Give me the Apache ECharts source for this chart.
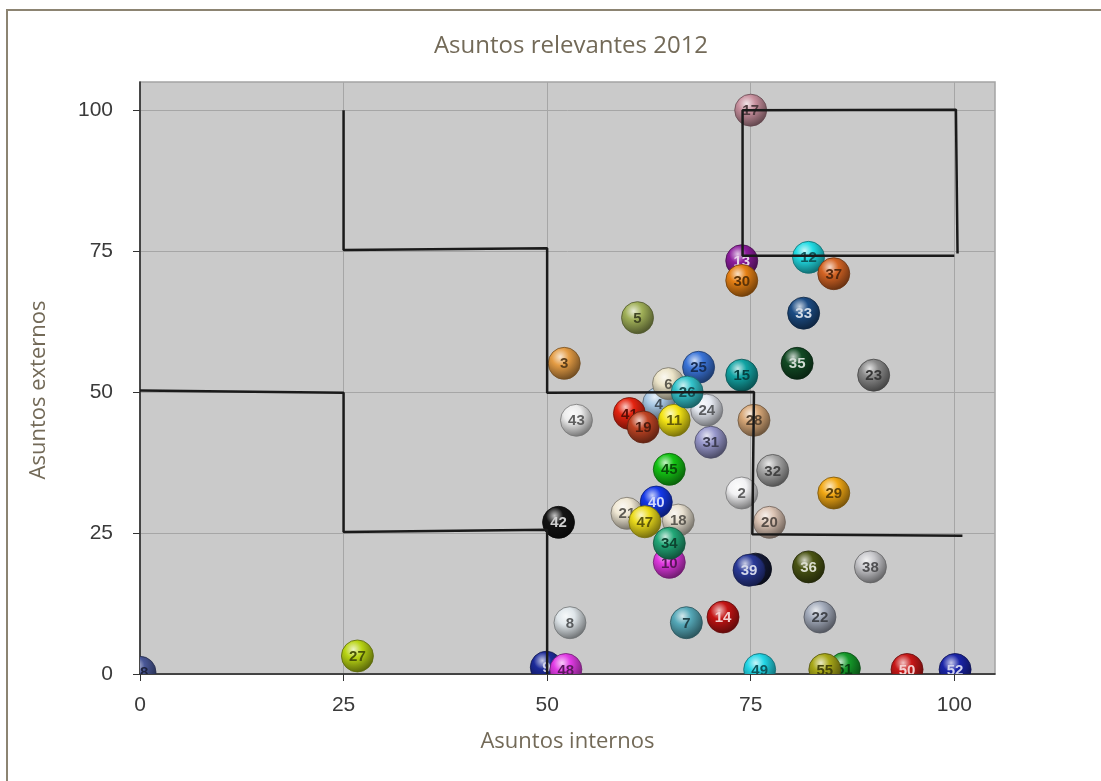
<!DOCTYPE html>
<html>
<head>
<meta charset="utf-8">
<script src="https://cdn.jsdelivr.net/npm/echarts@6/dist/echarts.min.js"></script>
<style>
    html, body { margin: 0; padding: 0; background: #fff; }
    #chart { width: 1101px; height: 781px; }
</style>
</head>
<body>
<div id="chart"></div>
<script>
// issue numbers, in drawing order (back to front)
const issueIds = ['58', '27', '9', '48', '49', '51', '55', '50', '52', '8', '7', '14', '22', '16', '39', '36', '38',
    '10', '21', '18', '40', '47', '34', '42', '20', '2', '29', '45', '32', '31', '43', '28', '4', '24', '41', '19',
    '11', '6', '25', '26', '15', '35', '23', '3', '5', '33', '13', '30', '12', '37', '17'];
const internalScores = [0, 26.7, 49.9, 52.3, 76.1, 86.5, 84.1, 94.2, 100.1, 52.8, 67.1, 71.6, 83.5, 75.6, 74.8, 82.1, 89.7,
    65, 59.8, 66.1, 63.4, 62, 65, 51.4, 77.3, 73.9, 85.2, 65, 77.7, 70.1, 53.6, 75.4, 63.7, 69.6, 60.1, 61.8,
    65.6, 64.9, 68.6, 67.2, 73.9, 80.7, 90.1, 52.1, 61.1, 81.5, 73.9, 73.9, 82.1, 85.2, 75];
const externalScores = [0.3, 3.2, 1.2, 0.8, 0.8, 1, 0.8, 0.8, 0.8, 9.1, 9.1, 10.1, 10.1, 18.6, 18.4, 19, 19,
    19.8, 28.5, 27.3, 30.5, 27, 23.2, 26.9, 26.9, 32.1, 32.1, 36.3, 36.1, 41.1, 45, 45, 48, 46.8, 46.2, 43.8,
    45, 51.5, 54.4, 50, 53, 55.1, 53, 55.1, 63.2, 64, 73.3, 69.8, 73.9, 71, 100];
const ballColors = ['#4a5898', '#b8d414', '#1c2a9a', '#e23ce6', '#22d6e6', '#159a2a', '#a8a818', '#c81818', '#1a24a8',
    '#dfe6ea', '#55a8b8', '#c41414', '#a4acbc', '#141a36', '#2a3a98', '#4a5414', '#c8c8cc',
    '#e038e0', '#f0e8d4', '#e8e0d0', '#1438e8', '#ecdc1c', '#22a878', '#141414', '#dcc4b4', '#f2f2f4', '#f2a814',
    '#14c414', '#a8a8a8', '#9898cc', '#ececec', '#d8a878', '#a8c8e4', '#e4e8f0', '#e42410', '#c04424',
    '#f4e414', '#ece4c8', '#3a74d8', '#34c4cc', '#12a4a4', '#124a24', '#8a8a8a', '#e49c44', '#a0b058', '#1c4c84',
    '#8c1c9c', '#e68014', '#22dce4', '#d46424', '#c8909e'];

// quadrant boundaries
const upperStep = [[25, 100], [25, 75.2], [50, 75.5], [50, 49.9], [75.4, 50], [75.2, 24.8], [101, 24.5]];
const lowerStep = [[0, 50.3], [25, 49.9], [25, 25.2], [50, 25.6], [50, 0]];
const topBox = [[100, 74.2], [74, 74.2], [74, 100], [100.2, 100.1], [100.4, 74.6]];

const axisTicks = [0, 25, 50, 75, 100];

const mix = (hex, target, t) => {
    const c = [1, 3, 5].map((i) => parseInt(hex.slice(i, i + 2), 16));
    const r = c.map((v, k) => Math.round(v + (target[k] - v) * t));
    return `rgb(${r[0]},${r[1]},${r[2]})`;
};

const luminance = (hex) => {
    const c = [1, 3, 5].map((i) => parseInt(hex.slice(i, i + 2), 16));
    return (0.299 * c[0] + 0.587 * c[1] + 0.114 * c[2]) / 255;
};

const renderBall = (params, api) => {
    const i = params.dataIndex;
    const p = api.coord([api.value(0), api.value(1)]);
    const base = ballColors[i];
    const dark = luminance(base) < 0.35;
    return {
        type: 'group',
        children: [
            {
                type: 'circle',
                shape: { cx: p[0], cy: p[1], r: 16 },
                style: {
                    fill: new echarts.graphic.RadialGradient(0.38, 0.3, 0.75, [
                        { offset: 0, color: mix(base, [255, 255, 255], 0.75) },
                        { offset: 0.35, color: base },
                        { offset: 1, color: mix(base, [0, 0, 0], 0.55) },
                    ]),
                    stroke: mix(base, [0, 0, 0], 0.5),
                    lineWidth: 0.8,
                },
            },
            {
                type: 'text',
                style: {
                    text: issueIds[i],
                    x: p[0],
                    y: p[1] + 1,
                    align: 'center',
                    verticalAlign: 'middle',
                    fill: dark ? mix(base, [255, 255, 255], 0.8) : mix(base, [0, 0, 0], 0.6),
                    font: 'bold 15px "Liberation Sans", Arial, sans-serif',
                },
            },
        ],
    };
};

const stepLine = (data) => ({
    type: 'line',
    data: data,
    showSymbol: false,
    symbol: 'none',
    z: 4,
    silent: true,
    lineStyle: { color: '#1a1a1a', width: 2.5 },
});

const nameStyle = {
    fontFamily: '"Open Sans", sans-serif',
    fontSize: 22,
    fontWeight: 'normal',
    color: '#736a58',
};

const axisCommon = {
    type: 'value',
    min: 0,
    max: 105,
    interval: 25,
    nameLocation: 'middle',
    axisLine: { show: true, lineStyle: { color: '#222', width: 1.5 } },
    axisTick: { show: true, customValues: axisTicks, length: 7, lineStyle: { color: '#333' } },
    splitLine: { show: true, lineStyle: { color: '#a6a6a6', width: 1 } },
};

const tickLabelStyle = {
    customValues: axisTicks,
    fontSize: 21,
    fontFamily: '"Liberation Sans", Arial, sans-serif',
    color: '#3a3a3a',
};

const chart = echarts.init(document.getElementById('chart'));

chart.setOption({
    animation: false,
    title: {
        text: 'Asuntos relevantes 2012',
        left: 566,
        top: 29,
        textAlign: 'center',
        textStyle: { ...nameStyle, fontSize: 24 },
    },
    graphic: [
        {
            type: 'rect',
            shape: { x: 7, y: 10, width: 1200, height: 900 },
            style: { fill: 'none', stroke: '#8c8472', lineWidth: 2 },
            silent: true,
        },
    ],
    grid: {
        left: 140,
        right: 106,
        top: 82,
        bottom: 107,
        show: true,
        backgroundColor: '#cacaca',
        borderColor: '#a4a4a4',
        borderWidth: 1.5,
    },
    xAxis: {
        ...axisCommon,
        name: 'Asuntos internos',
        nameGap: 57,
        nameTextStyle: nameStyle,
        axisLabel: { ...tickLabelStyle, margin: 21 },
    },
    yAxis: {
        ...axisCommon,
        name: 'Asuntos externos',
        nameGap: 90,
        nameTextStyle: { ...nameStyle, padding: [0, 24, 0, 0] },
        axisLabel: { ...tickLabelStyle, margin: 27 },
    },
    series: [
        {
            type: 'custom',
            clip: true,
            z: 3,
            data: internalScores.map((x, i) => [x, externalScores[i]]),
            renderItem: renderBall,
        },
        stepLine(upperStep),
        stepLine(lowerStep),
        stepLine(topBox),
    ],
});
</script>
</body>
</html>
